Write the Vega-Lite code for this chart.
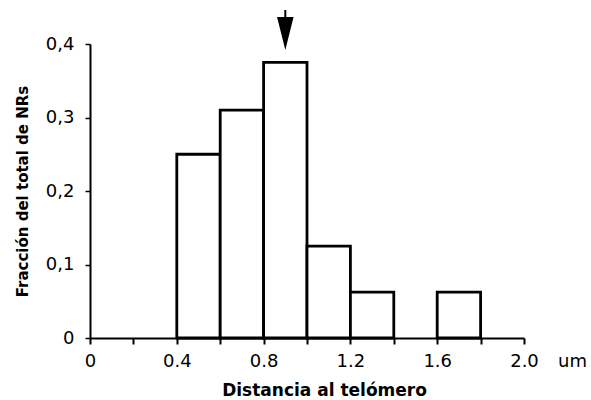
{
  "$schema": "https://vega.github.io/schema/vega-lite/v6.json",
  "width": 434,
  "height": 294,
  "autosize": {"type": "none"},
  "padding": {"left": 90, "top": 44, "right": 67, "bottom": 62},
  "background": "white",
  "config": {
    "view": {"stroke": null},
    "font": "DejaVu Sans"
  },
  "layer": [
    {
      "data": {"values": [
        {"start": 0.4, "end": 0.6, "fraction": 0.25},
        {"start": 0.6, "end": 0.8, "fraction": 0.31},
        {"start": 0.8, "end": 1.0, "fraction": 0.375},
        {"start": 1.0, "end": 1.2, "fraction": 0.125},
        {"start": 1.2, "end": 1.4, "fraction": 0.0625},
        {"start": 1.6, "end": 1.8, "fraction": 0.0625}
      ]},
      "mark": {"type": "rect", "fill": "white", "stroke": "black", "strokeWidth": 2.8},
      "encoding": {
        "x": {
          "field": "start", "type": "quantitative",
          "scale": {"domain": [0, 2.0], "nice": false},
          "axis": {
            "values": [0, 0.2, 0.4, 0.6, 0.8, 1.0, 1.2, 1.4, 1.6, 1.8, 2.0],
            "labelExpr": "datum.value == 0 ? '0' : (round(datum.value * 10) % 4 == 0 ? format(datum.value, '.1f') : '')",
            "grid": false,
            "title": "Distancia al telómero",
            "titleFont": "DejaVu Sans",
            "titleFontSize": 17,
            "titleFontWeight": "bold",
            "titleColor": "black",
            "titlePadding": 12,
            "titleX": 234,
            "labelFont": "DejaVu Sans",
            "labelFontSize": 18,
            "labelColor": "black",
            "labelPadding": 8,
            "labelFlush": false,
            "domainColor": "black",
            "domainWidth": 2,
            "tickColor": "black",
            "tickWidth": 2,
            "tickSize": 6
          }
        },
        "x2": {"field": "end"},
        "y": {
          "field": "fraction", "type": "quantitative",
          "scale": {"domain": [0, 0.4], "nice": false},
          "axis": {
            "values": [0, 0.1, 0.2, 0.3, 0.4],
            "labelExpr": "datum.value == 0 ? '0' : replace(format(datum.value, '.1f'), '.', ',')",
            "grid": false,
            "title": "Fracción del total de NRs",
            "titleFont": "DejaVu Sans",
            "titleFontSize": 15,
            "titleFontWeight": "bold",
            "titleColor": "black",
            "titlePadding": 15,
            "labelFont": "DejaVu Sans",
            "labelFontSize": 18,
            "labelColor": "black",
            "labelPadding": 11,
            "labelFlush": false,
            "domainColor": "black",
            "domainWidth": 2,
            "tickColor": "black",
            "tickWidth": 1.5,
            "tickSize": 5
          }
        },
        "y2": {"datum": 0}
      }
    },
    {
      "data": {"values": [{"x": 0.9, "top": 0.4463, "bottom": 0.43}]},
      "mark": {"type": "rule", "stroke": "black", "strokeWidth": 2, "clip": false},
      "encoding": {
        "x": {"field": "x", "type": "quantitative"},
        "y": {"field": "top", "type": "quantitative"},
        "y2": {"field": "bottom"}
      }
    },
    {
      "data": {"values": [{"x": 0.9, "y": 0.4143}]},
      "mark": {"type": "point", "shape": "M-0.5,-1L0.5,-1L0,1Z", "size": 1089, "filled": true, "fill": "black", "stroke": null, "opacity": 1, "clip": false},
      "encoding": {
        "x": {"field": "x", "type": "quantitative"},
        "y": {"field": "y", "type": "quantitative"}
      }
    },
    {
      "data": {"values": [{"x": 2.0, "y": 0, "label": "um"}]},
      "mark": {"type": "text", "font": "DejaVu Sans", "fontSize": 18, "color": "black", "dx": 34, "dy": 29, "align": "left", "baseline": "alphabetic", "clip": false},
      "encoding": {
        "x": {"field": "x", "type": "quantitative"},
        "y": {"field": "y", "type": "quantitative"},
        "text": {"field": "label"}
      }
    }
  ]
}
